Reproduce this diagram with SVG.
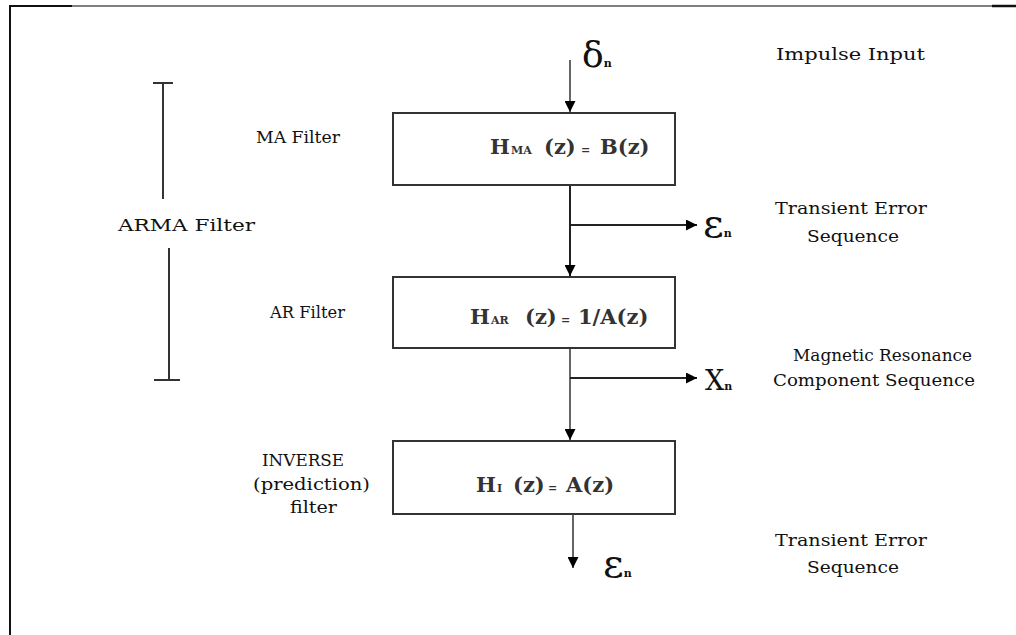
<svg xmlns="http://www.w3.org/2000/svg" width="1016" height="635" viewBox="0 0 1016 635">
  <style>
    .lbl { font-family: "DejaVu Serif", "Liberation Serif", serif; font-size: 17px; fill: #111; }
    .eq { font-family: "DejaVu Serif", "Liberation Serif", serif; font-weight: bold; font-size: 21px; fill: #333; }
    .eq .sub { font-size: 11px; }
    .sym { font-family: "DejaVu Serif", "Liberation Serif", serif; fill: #111; }
    .sym .sub { font-size: 11px; font-weight: bold; }
    .box { fill: #fff; stroke: #333; stroke-width: 2; }
    .wire { fill: none; stroke: #222; stroke-width: 2; }
    .wire-g { fill: none; stroke: #666; stroke-width: 2; }
    .bar { fill: none; stroke: #333; stroke-width: 2; }
  </style>
  <defs>
    <marker id="arrow" viewBox="0 0 10 10" refX="10" refY="5" markerWidth="5.5" markerHeight="5.5" orient="auto" markerUnits="strokeWidth">
      <path d="M0,0 L10,5 L0,10 z" fill="#000"/>
    </marker>
  </defs>

  <rect width="1016" height="635" fill="#fff"/>

  <!-- page frame -->
  <g id="frame">
    <line x1="72" y1="6" x2="992" y2="6" stroke="#555" stroke-width="1.5"/>
    <line x1="9" y1="6" x2="72" y2="6" stroke="#111" stroke-width="2"/>
    <line x1="992" y1="6" x2="1016" y2="6" stroke="#111" stroke-width="2.5"/>
    <line x1="10" y1="6" x2="10" y2="635" stroke="#111" stroke-width="2"/>
  </g>

  <!-- ARMA bracket -->
  <g id="arma">
    <line class="bar" x1="153" y1="83" x2="173" y2="83"/>
    <line class="bar" x1="163" y1="83" x2="163" y2="199"/>
    <line class="bar" x1="169" y1="248" x2="169" y2="380"/>
    <line class="bar" x1="154" y1="380" x2="180" y2="380"/>
    <text class="lbl" x="118" y="231" textLength="137" lengthAdjust="spacingAndGlyphs">ARMA Filter</text>
  </g>

  <!-- connectors -->
  <g id="connectors">
    <line class="wire-g" x1="570" y1="60" x2="570" y2="112" marker-end="url(#arrow)"/>
    <line class="wire" x1="570" y1="186" x2="570" y2="276" marker-end="url(#arrow)"/>
    <line class="wire" x1="570" y1="225" x2="697" y2="225" marker-end="url(#arrow)"/>
    <line class="wire-g" x1="570" y1="348" x2="570" y2="440" marker-end="url(#arrow)"/>
    <line class="wire" x1="570" y1="378" x2="697" y2="378" marker-end="url(#arrow)"/>
    <line class="wire-g" x1="573" y1="514" x2="573" y2="568" marker-end="url(#arrow)"/>
  </g>

  <!-- input -->
  <g id="input">
    <text class="sym" x="582" y="67" font-size="36">δ<tspan class="sub">n</tspan></text>
    <text class="lbl" x="776" y="60" textLength="149" lengthAdjust="spacingAndGlyphs">Impulse Input</text>
  </g>

  <!-- MA filter -->
  <g id="ma-filter">
    <rect class="box" x="393" y="113" width="282" height="72"/>
    <text class="lbl" x="256" y="143" textLength="84" lengthAdjust="spacingAndGlyphs">MA Filter</text>
    <text class="eq" y="154"><tspan x="490">H</tspan><tspan class="sub" x="511">MA</tspan><tspan x="544">(z)</tspan><tspan class="sub" x="581">=</tspan><tspan x="600">B(z)</tspan></text>
  </g>

  <!-- transient error output 1 -->
  <g id="error-1">
    <text class="sym" x="703" y="237" font-size="40">ε<tspan class="sub">n</tspan></text>
    <text class="lbl" x="775" y="214" textLength="152" lengthAdjust="spacingAndGlyphs">Transient Error</text>
    <text class="lbl" x="807" y="242" textLength="92" lengthAdjust="spacingAndGlyphs">Sequence</text>
  </g>

  <!-- AR filter -->
  <g id="ar-filter">
    <rect class="box" x="393" y="277" width="282" height="71"/>
    <text class="lbl" x="270" y="318" textLength="75" lengthAdjust="spacingAndGlyphs">AR Filter</text>
    <text class="eq" y="324"><tspan x="470">H</tspan><tspan class="sub" x="491">AR</tspan><tspan x="525">(z)</tspan><tspan class="sub" x="561">=</tspan><tspan x="578">1/A(z)</tspan></text>
  </g>

  <!-- magnetic resonance output -->
  <g id="mr-output">
    <text class="sym" x="705" y="390" font-size="27">X<tspan class="sub">n</tspan></text>
    <text class="lbl" x="793" y="361" textLength="179" lengthAdjust="spacingAndGlyphs">Magnetic Resonance</text>
    <text class="lbl" x="773" y="386" textLength="202" lengthAdjust="spacingAndGlyphs">Component Sequence</text>
  </g>

  <!-- inverse filter -->
  <g id="inverse-filter">
    <rect class="box" x="393" y="441" width="282" height="73"/>
    <text class="lbl" x="262" y="466" textLength="82" lengthAdjust="spacingAndGlyphs">INVERSE</text>
    <text class="lbl" x="253" y="490" textLength="117" lengthAdjust="spacingAndGlyphs">(prediction)</text>
    <text class="lbl" x="290" y="513" textLength="47" lengthAdjust="spacingAndGlyphs">filter</text>
    <text class="eq" y="492"><tspan x="476">H</tspan><tspan class="sub" x="497">I</tspan><tspan x="513">(z)</tspan><tspan class="sub" x="548">=</tspan><tspan x="566">A(z)</tspan></text>
  </g>

  <!-- transient error output 2 -->
  <g id="error-2">
    <text class="sym" x="603" y="577" font-size="40">ε<tspan class="sub">n</tspan></text>
    <text class="lbl" x="775" y="546" textLength="152" lengthAdjust="spacingAndGlyphs">Transient Error</text>
    <text class="lbl" x="807" y="573" textLength="92" lengthAdjust="spacingAndGlyphs">Sequence</text>
  </g>
</svg>
